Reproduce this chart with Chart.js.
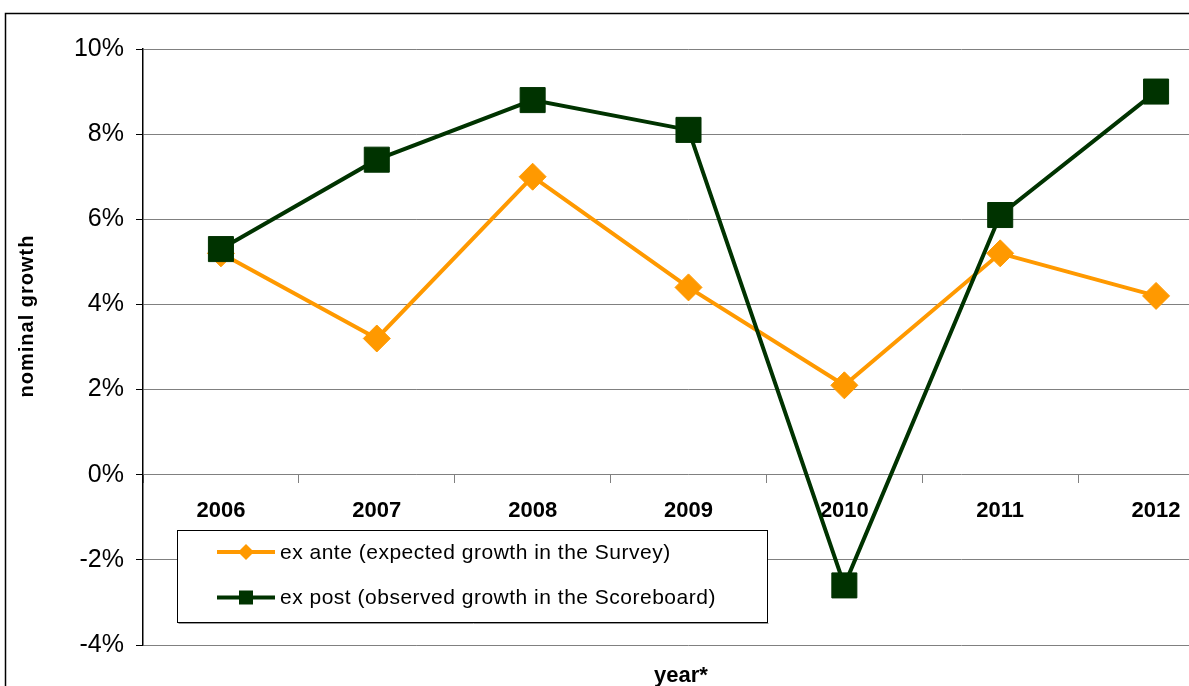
<!DOCTYPE html>
<html>
<head>
<meta charset="utf-8">
<script src="https://cdn.jsdelivr.net/npm/chart.js@4"></script>
<style>
body { margin: 0; overflow: hidden; background: #fff; }
#wrap { position: absolute; left: 0; top: 0; width: 1234px; height: 686px; }
</style>
</head>
<body>
<div id="wrap"><canvas id="chart1" width="1234" height="686"></canvas></div>
<script>
const years = ['2006', '2007', '2008', '2009', '2010', '2011', '2012'];
const exAnte = [5.2, 3.2, 7.0, 4.4, 2.1, 5.2, 4.2];
const exPost = [5.3, 7.4, 8.8, 8.1, -2.6, 6.1, 9.0];
const yTicks = [-4, -2, 0, 2, 4, 6, 8, 10];
const seriesNames = ['ex ante (expected growth in the Survey)', 'ex post (observed growth in the Scoreboard)'];

const font = '"Liberation Sans", Arial, sans-serif';

// frame, axis titles and the boxed legend
const extras = {
    id: 'extras',
    beforeDraw(chart) {
        const c = chart.ctx;
        c.save();
        c.strokeStyle = '#000';
        c.lineWidth = 1.5;
        c.strokeRect(5.5, 13.5, 2000, 2000);
        c.restore();
    },
    afterDraw(chart) {
        const c = chart.ctx;
        c.save();
        c.fillStyle = '#000';
        c.textAlign = 'center';
        c.textBaseline = 'middle';
        c.font = 'bold 22px ' + font;
        c.fillText('year*', 681, 676);
        c.translate(27, 316);
        c.rotate(-Math.PI / 2);
        c.font = 'bold 20px ' + font;
        c.letterSpacing = '1px';
        c.fillText('nominal growth', 0, 0);
        c.restore();

        const lx = 177.5, ly = 530.5, lw = 590, lh = 92;
        c.save();
        c.fillStyle = '#fff';
        c.fillRect(lx, ly, lw, lh);
        c.strokeStyle = '#999';
        c.beginPath();
        c.moveTo(lx + 1, ly + lh + 1);
        c.lineTo(lx + lw + 1, ly + lh + 1);
        c.stroke();
        c.strokeStyle = '#000';
        c.lineWidth = 1;
        c.strokeRect(lx, ly, lw, lh);
        chart.data.datasets.forEach((d, i) => {
            const y = ly + 21.5 + i * 45.5;
            c.strokeStyle = d.borderColor;
            c.lineWidth = 4;
            c.beginPath();
            c.moveTo(217, y);
            c.lineTo(275, y);
            c.stroke();
            c.fillStyle = d.backgroundColor;
            c.beginPath();
            if (d.pointStyle === 'rectRot') {
                c.moveTo(238, y); c.lineTo(246, y - 8); c.lineTo(254, y); c.lineTo(246, y + 8);
                c.closePath();
            } else {
                c.rect(239, y - 7, 14, 14);
            }
            c.fill();
            c.fillStyle = '#000';
            c.textAlign = 'left';
            c.textBaseline = 'middle';
            c.font = '21px ' + font;
            c.letterSpacing = '0.5px';
            c.fillText(d.label, 280, y + 1);
        });
        c.restore();
    }
};

const config = {
    type: 'line',
    data: {
        labels: years,
        datasets: [{
            label: seriesNames[0],
            data: exAnte,
            borderColor: '#ff9900',
            backgroundColor: '#ff9900',
            borderWidth: 4,
            pointStyle: 'rectRot',
            pointRadius: 13.5,
            pointBorderWidth: 1,
            pointHoverRadius: 13.5,
            tension: 0,
            order: 2
        }, {
            label: seriesNames[1],
            data: exPost,
            borderColor: '#003300',
            backgroundColor: '#003300',
            borderWidth: 4,
            pointStyle: 'rect',
            pointRadius: 17.7,
            pointBorderWidth: 1,
            pointHoverRadius: 17.7,
            tension: 0,
            order: 1
        }]
    },
    options: {
        responsive: false,
        animation: false,
        layout: {
            autoPadding: false,
            padding: { top: 49, bottom: 41, left: 0, right: 0 }
        },
        scales: {
            x: {
                type: 'category',
                display: false,
                offset: true
            },
            x2: {
                type: 'category',
                position: { y: 0 },
                offset: true,
                afterFit: s => { s.paddingLeft = 0; s.paddingRight = 0; },
                grid: {
                    offset: true,
                    drawOnChartArea: false,
                    tickLength: 8,
                    tickColor: '#808080'
                },
                border: { display: false },
                ticks: {
                    color: '#000',
                    padding: 15,
                    font: { family: font, size: 22, weight: 'bold' }
                }
            },
            y: {
                min: yTicks[0],
                max: yTicks[yTicks.length - 1],
                afterBuildTicks: s => { s.ticks = yTicks.map(v => ({ value: v })); },
                afterFit: s => { s.width = 143; },
                grid: {
                    color: '#808080',
                    lineWidth: 1,
                    tickLength: 7,
                    tickColor: '#000'
                },
                border: { color: '#000', width: 1.5 },
                ticks: {
                    color: '#000',
                    padding: 12,
                    font: { family: font, size: 25 },
                    callback: value => `${value}%`
                }
            }
        },
        plugins: {
            legend: { display: false },
            tooltip: { enabled: false }
        }
    },
    plugins: [extras]
};

new Chart(document.getElementById('chart1'), config);
</script>
</body>
</html>
